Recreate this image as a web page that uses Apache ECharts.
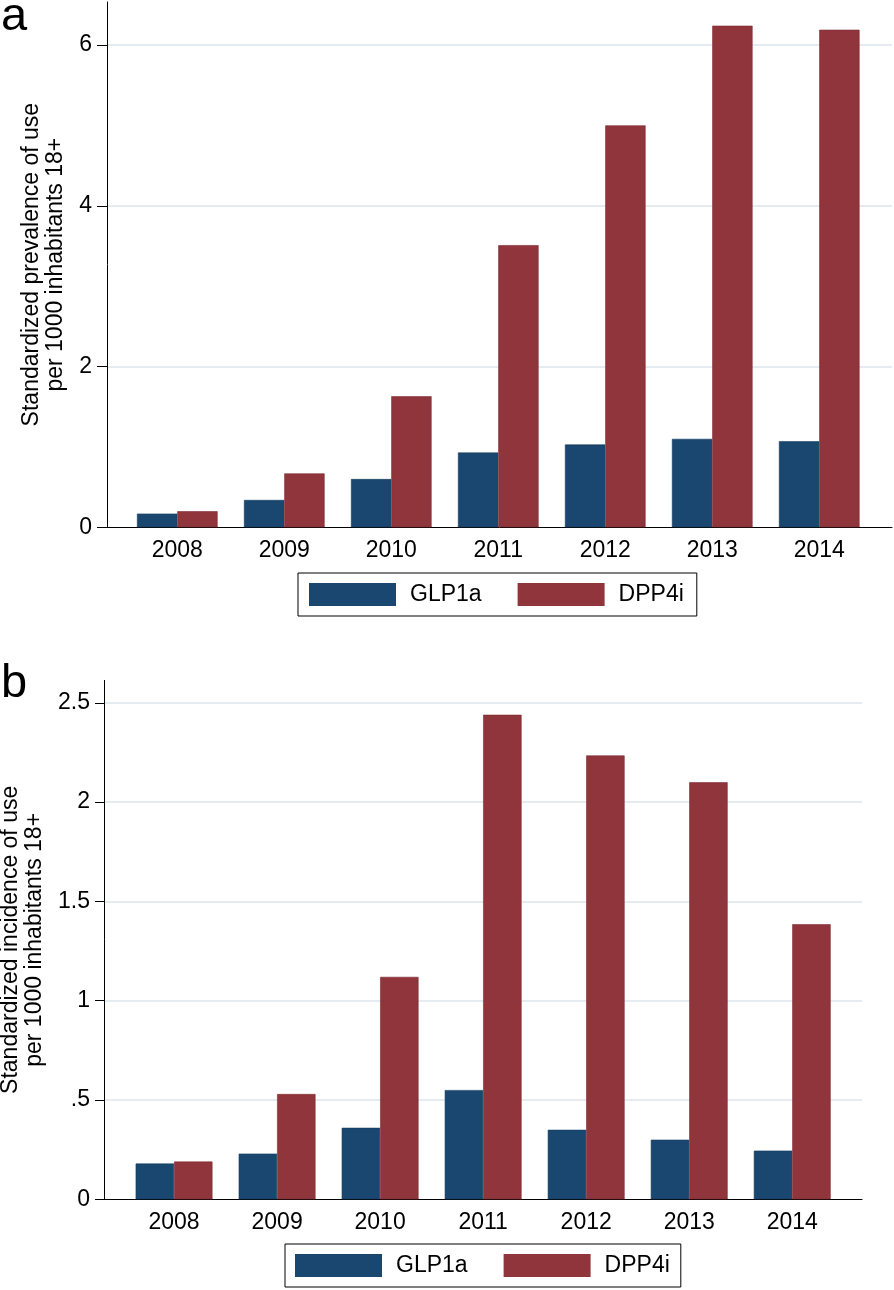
<!DOCTYPE html>
<html>
<head>
<meta charset="utf-8">
<script src="https://cdn.jsdelivr.net/npm/echarts@6/dist/echarts.min.js"></script>
<style>
html,body{margin:0;padding:0;background:#fff;}
#c{width:894px;height:1290px;}
</style>
</head>
<body>
<div id="c"></div>
<script>
// ---- data ----
const years = [2008, 2009, 2010, 2011, 2012, 2013, 2014];
const seriesNames = ['GLP1a', 'DPP4i'];
const prevalenceGLP1a = [0.17, 0.34, 0.60, 0.93, 1.03, 1.10, 1.07];
const prevalenceDPP4i = [0.20, 0.67, 1.63, 3.51, 5.00, 6.24, 6.19];
const incidenceGLP1a = [0.18, 0.23, 0.36, 0.55, 0.35, 0.30, 0.245];
const incidenceDPP4i = [0.19, 0.53, 1.12, 2.44, 2.235, 2.10, 1.385];
const prevalenceTicks = [0, 2, 4, 6];
const incidenceTicks = [0, 0.5, 1, 1.5, 2, 2.5];
const prevalenceTitle = 'Standardized prevalence of use\nper 1000 inhabitants 18+';
const incidenceTitle = 'Standardized incidence of use\nper 1000 inhabitants 18+';
const panelLabels = ['a', 'b'];

// ---- style ----
const FONT = '"Liberation Sans", Arial, sans-serif';
const FS = 23;
const BLUE = '#1a476f';
const RED = '#90353b';
const GRID = '#dde6ec';

const pair = (xs, ys) => xs.map((x, i) => [x, ys[i]]);
const fmtInc = v => (v === 0 ? '0' : String(v).replace(/^0\./, '.'));

function xAxis(gi, min, max) {
  return {
    gridIndex: gi, type: 'value', min: min, max: max,
    axisLine: { show: true, onZero: false, lineStyle: { color: '#000', width: 1 } },
    axisTick: { show: false },
    splitLine: { show: false },
    axisLabel: { customValues: years, formatter: v => String(v), fontSize: FS, color: '#000', fontFamily: FONT, margin: 12 }
  };
}
function yAxis(gi, max, ticks, title, gap, fmt, tickLen, margin) {
  return {
    gridIndex: gi, type: 'value', min: 0, max: max,
    name: title, nameLocation: 'middle', nameRotate: 90, nameGap: gap,
    nameTextStyle: { fontSize: FS, lineHeight: 24, color: '#000', fontFamily: FONT },
    axisLine: { show: true, lineStyle: { color: '#000', width: 1 } },
    axisTick: { show: true, length: tickLen, customValues: ticks, lineStyle: { color: '#000' } },
    axisLabel: { customValues: ticks, formatter: fmt, fontSize: FS, color: '#000', fontFamily: FONT, margin: margin },
    splitLine: { show: true, showMinLine: false, lineStyle: { color: GRID, width: 1.5 } }
  };
}
function bar(name, gi, ys, color, border, w) {
  return {
    type: 'bar', name: name, xAxisIndex: gi, yAxisIndex: gi,
    data: pair(years, ys), barWidth: w, barGap: '0%',
    itemStyle: { color: color, borderColor: border, borderWidth: 0.6 },
    emphasis: { disabled: true }, animation: false
  };
}
function legend(left, top, padding) {
  return {
    left: left, top: top, orient: 'horizontal', data: seriesNames, icon: 'rect',
    itemWidth: 87, itemHeight: 23, itemGap: 36, padding: padding,
    borderColor: '#000', borderWidth: 1, selectedMode: false,
    itemStyle: { borderWidth: 0 },
    textStyle: { fontSize: FS, color: '#000', fontFamily: FONT, padding: [0, 0, 0, 9] }
  };
}

const chart = echarts.init(document.getElementById('c'), null, { renderer: 'canvas' });
chart.setOption({
  animation: false,
  backgroundColor: '#fff',
  textStyle: { fontFamily: FONT },
  title: [
    { text: panelLabels[0], left: 1, top: -6, padding: 0, textStyle: { fontSize: 47, fontWeight: 'normal', color: '#000', fontFamily: FONT } },
    { text: panelLabels[1], left: 1, top: 661, padding: 0, textStyle: { fontSize: 47, fontWeight: 'normal', color: '#000', fontFamily: FONT } }
  ],
  grid: [
    { left: 107, right: 2, top: 2, bottom: 762.7, outerBoundsMode: 'none', containLabel: false },
    { left: 104, right: 32, top: 680.4, bottom: 90.7, outerBoundsMode: 'none', containLabel: false }
  ],
  xAxis: [xAxis(0, 2007.343, 2014.68), xAxis(1, 2007.32, 2014.677)],
  yAxis: [
    yAxis(0, 6.535, prevalenceTicks, prevalenceTitle, 39, v => String(v), 10, 15),
    yAxis(1, 2.613, incidenceTicks, incidenceTitle, 54, fmtInc, 9, 14)
  ],
  legend: [legend(298, 573, [10, 13, 10, 11]), legend(285, 1244, [10, 11, 10, 10])],
  series: [
    bar(seriesNames[0], 0, prevalenceGLP1a, BLUE, '#143a5c', 40.3),
    bar(seriesNames[1], 0, prevalenceDPP4i, RED, '#7c2c32', 40.3),
    bar(seriesNames[0], 1, incidenceGLP1a, BLUE, '#143a5c', 38.4),
    bar(seriesNames[1], 1, incidenceDPP4i, RED, '#7c2c32', 38.4)
  ]
});
</script>
</body>
</html>
